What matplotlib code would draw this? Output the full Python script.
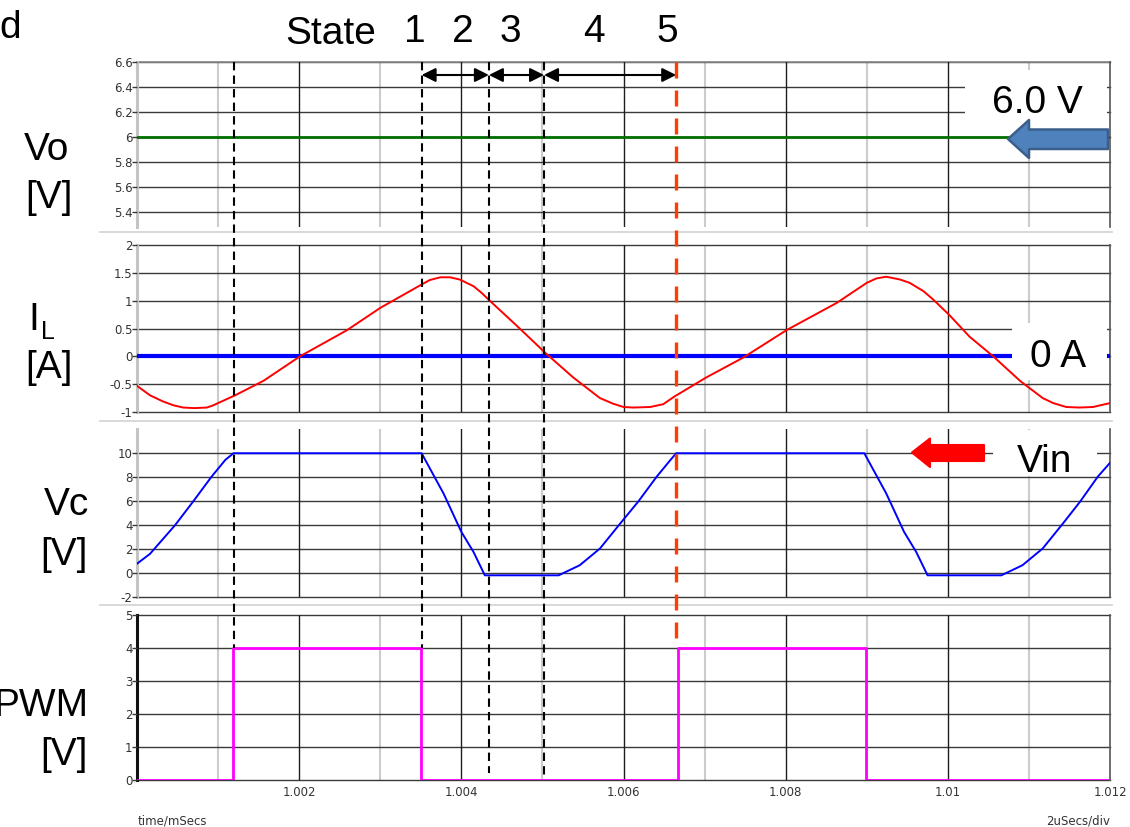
import matplotlib
matplotlib.use('Agg')
import matplotlib.pyplot as plt
from matplotlib import transforms
from matplotlib.patches import Polygon, Rectangle
from matplotlib.lines import Line2D

# ---------------- data (time in ms) ----------------
vo_t = [1.000, 1.012]
vo_v = [6.0, 6.0]

il_t = [1.0000, 1.00016, 1.00032, 1.00045, 1.00057, 1.00071, 1.00086, 1.00094, 1.00100, 1.00121,
        1.00156, 1.00201, 1.00259, 1.00300, 1.00351, 1.00361, 1.00374, 1.00386, 1.00398,
        1.00415, 1.00425, 1.00435, 1.00472, 1.00503, 1.00538, 1.00571, 1.00587, 1.00600,
        1.00612, 1.00633, 1.00649, 1.00663, 1.00702, 1.00748, 1.00801, 1.00863, 1.00900,
        1.00912, 1.00924, 1.00941, 1.00953, 1.00970, 1.00982, 1.01002, 1.01027, 1.01056,
        1.01089, 1.01117, 1.01130, 1.01146, 1.01162, 1.01179, 1.01191, 1.01200]
il_v = [-0.53, -0.70, -0.81, -0.88, -0.92, -0.93, -0.92, -0.88, -0.84, -0.70,
        -0.44, 0.00, 0.47, 0.87, 1.29, 1.37, 1.42, 1.42, 1.38,
        1.26, 1.14, 1.00, 0.50, 0.07, -0.38, -0.75, -0.85, -0.91,
        -0.92, -0.91, -0.86, -0.72, -0.38, -0.02, 0.47, 0.96, 1.32,
        1.40, 1.43, 1.38, 1.32, 1.17, 1.02, 0.74, 0.35, 0.00,
        -0.44, -0.75, -0.84, -0.91, -0.92, -0.91, -0.87, -0.84]
il_zero = [0.0, 0.0]

vc_t = [1.0000, 1.00016, 1.00047, 1.00069, 1.00092, 1.00109, 1.00119, 1.00351, 1.00378,
        1.00400, 1.00415, 1.00429, 1.00520, 1.00546, 1.00571, 1.00596, 1.00618, 1.00641,
        1.00658, 1.00665, 1.00897, 1.00924, 1.00946, 1.00961, 1.00975, 1.01066, 1.01092,
        1.01117, 1.01142, 1.01163, 1.01185, 1.01200]
vc_v = [0.78, 1.6, 4.0, 5.95, 8.05, 9.45, 10.0, 10.0, 6.65,
        3.44, 1.76, -0.19, -0.19, 0.65, 2.05, 4.14, 5.95, 8.05,
        9.45, 10.0, 10.0, 6.65, 3.44, 1.76, -0.19, -0.19, 0.65,
        2.05, 4.14, 5.95, 8.05, 9.2]

pwm_t = [1.000, 1.00118, 1.00350, 1.00667, 1.00899, 1.012]
pwm_v = [0, 4, 0, 4, 0, 0]

state_bounds = [1.00351, 1.00434, 1.00502, 1.00665]
marker_t = [1.0012, 1.00351, 1.00434, 1.00502]
red_marker_t = 1.00665
state_labels = ['1', '2', '3', '4', '5']

x_major = [1.000, 1.002, 1.004, 1.006, 1.008, 1.010, 1.012]
x_minor = [1.001, 1.003, 1.005, 1.007, 1.009, 1.011]
x_labels = ['', '1.002', '1.004', '1.006', '1.008', '1.01', '1.012']

vo_ticks = [5.4, 5.6, 5.8, 6.0, 6.2, 6.4, 6.6]
vo_labels = ['5.4', '5.6', '5.8', '6', '6.2', '6.4', '6.6']
il_ticks = [-1, -0.5, 0, 0.5, 1, 1.5, 2]
il_labels = ['-1', '-0.5', '0', '0.5', '1', '1.5', '2']
vc_ticks = [-2, 0, 2, 4, 6, 8, 10]
vc_labels = ['-2', '0', '2', '4', '6', '8', '10']
pwm_ticks = [0, 1, 2, 3, 4, 5]
pwm_labels = ['0', '1', '2', '3', '4', '5']

# ---------------- layout ----------------
W, H = 1130, 827
plt.rcParams['font.family'] = ['Liberation Sans', 'DejaVu Sans']

fig = plt.figure(figsize=(W / 100, H / 100), dpi=100)
fig.patch.set_facecolor('white')


def fx(x):
    return x / W


def fy(y):
    return 1 - y / H


def make_ax(top, bot, ylim, ticks, labels, left_color, left_lw):
    ax = fig.add_axes([fx(137), fy(bot), 973 / W, (bot - top) / H])
    ax.set_xlim(1.000, 1.012)
    ax.set_ylim(*ylim)
    for s in ax.spines.values():
        s.set_visible(False)
    ax.set_xticks(x_major)
    ax.set_xticklabels([])
    ax.tick_params(axis='x', length=0)
    ax.set_yticks(ticks)
    ax.set_yticklabels(labels)
    ax.tick_params(axis='y', length=3.6, width=1, color='#3a3a3a', pad=-0.3,
                   labelsize=8.5, labelcolor='#333333')
    for lbl in ax.get_yticklabels():
        lbl.set_fontfamily('DejaVu Sans')
    for x in x_minor:
        ax.axvline(x, color='#cccccc', lw=1.5, zorder=0.9)
    for x in x_major[1:-1]:
        ax.axvline(x, color='#1e1e1e', lw=1, zorder=1.1)
    ax.axvline(x_major[-1], color='#555555', lw=1.2, zorder=1.1, clip_on=False)
    ax.axvline(x_major[0], color=left_color, lw=left_lw, zorder=1.1, clip_on=False)
    for y in ticks:
        ax.axhline(y, color='#3a3a3a', lw=1, zorder=1, clip_on=False)
    return ax


ax_vo = make_ax(62, 227, (5.28, 6.6), vo_ticks, vo_labels, '#c4c4c4', 2.2)
ax_il = make_ax(245, 412, (-1, 2), il_ticks, il_labels, '#c4c4c4', 2.2)
ax_vc = make_ax(429.3, 597, (-2, 12), vc_ticks, vc_labels, '#c4c4c4', 2.2)
ax_pwm = make_ax(615, 780, (0, 5), pwm_ticks, pwm_labels, '#111111', 2.2)

# top grid line of Vo slightly lighter
ax_vo.axhline(6.6, color='#8a8a8a', lw=1.2, zorder=1.05, clip_on=False)

# x tick labels on PWM panel
ax_pwm.set_xticklabels(x_labels)
ax_pwm.tick_params(axis='x', length=0, pad=4, labelsize=8.5, labelcolor='#333333')
for lbl in ax_pwm.get_xticklabels():
    lbl.set_fontfamily('DejaVu Sans')

# ---------------- traces ----------------
ax_vo.plot(vo_t, vo_v, color='#007000', lw=2, zorder=2)
ax_il.plot([il_t[0], il_t[-1]], il_zero, color='#0000ff', lw=3, zorder=2)
ax_il.plot(il_t, il_v, color='#ff0000', lw=1.4, zorder=4)
ax_vc.plot(vc_t, vc_v, color='#0000ff', lw=1.4, zorder=4)
ax_pwm.step(pwm_t, pwm_v, where='post', color='#ff00ff', lw=2, zorder=4)

# ---------------- separators ----------------
for ysep in (232, 420.5, 604.5):
    fig.add_artist(Line2D([fx(100), fx(1112)], [fy(ysep), fy(ysep)],
                          transform=fig.transFigure, color='#d6d6d6', lw=1.3, zorder=0.5))


# ---------------- white label boxes ----------------
def white_box(ax, x0, y0, x1, y1):
    ax.add_patch(Rectangle((fx(x0), fy(y1)), (x1 - x0) / W, (y1 - y0) / H,
                           transform=fig.transFigure, facecolor='white',
                           edgecolor='none', zorder=3, clip_on=False))


white_box(ax_vo, 965, 70, 1107, 126)
white_box(ax_il, 1012, 323, 1107, 380)
white_box(ax_vc, 993, 430, 1097, 476)

# ---------------- block arrows ----------------
blue_pts = [(1008, 139), (1029, 120), (1029, 129.5), (1108, 129.5), (1108, 149),
            (1029, 149), (1029, 158)]
ax_vo.add_patch(Polygon([(fx(x), fy(y)) for x, y in blue_pts], closed=True,
                        transform=fig.transFigure, facecolor='#4f81bd',
                        edgecolor='#3a5f8b', lw=1.8, joinstyle='round',
                        zorder=6, clip_on=False))
red_pts = [(912, 452.5), (930, 438.5), (930, 445), (984, 445), (984, 461),
           (930, 461), (930, 467)]
ax_vc.add_patch(Polygon([(fx(x), fy(y)) for x, y in red_pts], closed=True,
                        transform=fig.transFigure, facecolor='#ff0000',
                        edgecolor='#ff0000', lw=1.5, joinstyle='round',
                        zorder=6, clip_on=False))

# ---------------- dashed markers ----------------
trans = transforms.blended_transform_factory(ax_vo.transData, fig.transFigure)
marker_bottom = [648, 648, 773, 776]
for t, yb in zip(marker_t, marker_bottom):
    fig.add_artist(Line2D([t, t], [fy(62), fy(yb)], transform=trans, color='black',
                          lw=1.5, linestyle=(0, (4, 2.5)), zorder=5))
fig.add_artist(Line2D([red_marker_t, red_marker_t], [fy(62), fy(640)], transform=trans,
                      color='#ff3d00', lw=2.4, linestyle=(0, (4.8, 3.6)), zorder=5))

# state arrows
for a, b in zip(state_bounds[:-1], state_bounds[1:]):
    ax_vo.annotate('', xy=(b, fy(75)), xytext=(a, fy(75)), xycoords=trans,
                   textcoords=trans, annotation_clip=False,
                   arrowprops=dict(arrowstyle='<|-|>,head_length=0.7,head_width=0.35',
                                   color='black', lw=1.5, shrinkA=0, shrinkB=0,
                                   mutation_scale=12))

# ---------------- texts ----------------
big = 28
fig.text(fx(331), fy(44), 'State', ha='center', va='baseline', fontsize=big)
for lab, xp in zip(state_labels, [415, 463, 510, 594, 667]):
    fig.text(fx(xp), fy(42), lab, ha='center', va='baseline', fontsize=big)
fig.text(fx(10), fy(38), 'd', ha='center', va='baseline', fontsize=big)

fig.text(fx(47), fy(160), 'Vo', ha='center', va='baseline', fontsize=big)
fig.text(fx(49), fy(208), '[V]', ha='center', va='baseline', fontsize=big)
fig.text(fx(34), fy(330), 'I', ha='center', va='baseline', fontsize=big)
fig.text(fx(48), fy(339), 'L', ha='center', va='baseline', fontsize=18)
fig.text(fx(49), fy(378), '[A]', ha='center', va='baseline', fontsize=big)
fig.text(fx(66), fy(515), 'Vc', ha='center', va='baseline', fontsize=big)
fig.text(fx(64), fy(565), '[V]', ha='center', va='baseline', fontsize=big)
fig.text(fx(89), fy(716), 'PWM', ha='right', va='baseline', fontsize=big)
fig.text(fx(64), fy(765), '[V]', ha='center', va='baseline', fontsize=big)

fig.text(fx(1037), fy(113), '6.0 V', ha='center', va='baseline', fontsize=big, zorder=7)
fig.text(fx(1058), fy(367), '0 A', ha='center', va='baseline', fontsize=big, zorder=7)
fig.text(fx(1045), fy(472), 'Vin', ha='center', va='baseline', fontsize=big, zorder=7)

fig.text(fx(138), fy(821), 'time/mSecs', ha='left', va='center', fontsize=8.5,
         color='#333333', family='DejaVu Sans')
fig.text(fx(1110), fy(821), '2uSecs/div', ha='right', va='center', fontsize=8.5,
         color='#333333', family='DejaVu Sans')

fig.savefig('out.png', dpi=100, facecolor='white')
